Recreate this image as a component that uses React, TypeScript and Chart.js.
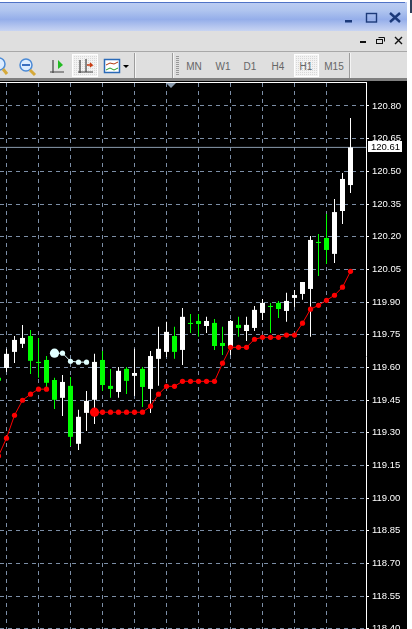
import React, { useEffect, useRef } from "react";
import Chart from "chart.js/auto";

const tickValues = [120.8, 120.65, 120.5, 120.35, 120.2, 120.05, 119.9, 119.75, 119.6, 119.45, 119.3, 119.15, 119.0, 118.85, 118.7, 118.55, 118.4];
const periods = ["MN", "W1", "D1", "H4", "H1", "M15"];
const lastPrice = 120.61;

const opens = [119.552, 119.597, 119.671, 119.708, 119.744, 119.625, 119.634, 119.542, 119.46, 119.515, 119.249, 119.391, 119.451, 119.634, 119.515, 119.487, 119.593, 119.561, 119.593, 119.501, 119.639, 119.671, 119.744, 119.68, 119.804, 119.813, 119.79, 119.804, 119.712, 119.689, 119.795, 119.767, 119.781, 119.85, 119.882, 119.896, 119.859, 119.919, 119.937, 119.96, 120.176, 120.194, 120.121, 120.318, 120.437];
const closes = [119.538, 119.662, 119.726, 119.735, 119.63, 119.62, 119.529, 119.451, 119.533, 119.281, 119.373, 119.446, 119.625, 119.519, 119.501, 119.584, 119.538, 119.574, 119.51, 119.652, 119.685, 119.763, 119.671, 119.832, 119.799, 119.799, 119.813, 119.698, 119.698, 119.813, 119.781, 119.795, 119.864, 119.896, 119.877, 119.868, 119.905, 119.932, 119.992, 120.185, 120.171, 120.139, 120.313, 120.465, 120.61];
const highs = [119.561, 119.685, 119.744, 119.795, 119.772, 119.735, 119.652, 119.552, 119.565, 119.556, 119.405, 119.492, 119.662, 119.675, 119.593, 119.602, 119.602, 119.685, 119.602, 119.675, 119.786, 119.809, 119.786, 119.873, 119.845, 119.845, 119.832, 119.822, 119.786, 119.818, 119.832, 119.832, 119.882, 119.914, 119.896, 119.905, 119.942, 119.955, 119.992, 120.203, 120.212, 120.304, 120.373, 120.492, 120.745];
const lows = [119.524, 119.579, 119.62, 119.689, 119.57, 119.552, 119.51, 119.409, 119.377, 119.239, 119.221, 119.308, 119.34, 119.492, 119.46, 119.46, 119.478, 119.469, 119.418, 119.391, 119.515, 119.648, 119.639, 119.611, 119.758, 119.74, 119.758, 119.68, 119.657, 119.657, 119.74, 119.721, 119.767, 119.818, 119.758, 119.827, 119.809, 119.877, 119.91, 119.74, 120.02, 120.075, 120.079, 120.258, 120.401];
const redStops = [119.193, 119.275, 119.38, 119.449, 119.477, 119.5, 119.5, null, null, null, null, null, 119.394, 119.394, 119.394, 119.394, 119.394, 119.394, 119.394, 119.422, 119.477, 119.513, 119.513, 119.536, 119.536, 119.536, 119.536, 119.536, 119.619, 119.692, 119.692, 119.692, 119.729, 119.738, 119.738, 119.738, 119.748, 119.748, 119.803, 119.867, 119.885, 119.908, 119.931, 119.968, 120.041];
const whiteStops = [null, null, null, null, null, null, null, 119.665, 119.665, 119.628, 119.624, 119.624];

const GRID = "#7c8ea6";
const GREEN = "#00ff00";
const WHITE = "#ffffff";
const RED = "#ff0000";
const CYAN = "#e0ffff";
const FONT = "'Liberation Sans', Arial, sans-serif";

const overlay = {
  id: "overlay",
  afterDraw(chart: any) {
    const { ctx, chartArea, scales } = chart;
    ctx.save();
    ctx.fillStyle = "#ffffff";
    ctx.fillRect(0, 1, chartArea.right + 1, 1);
    ctx.fillStyle = "#8a9bad";
    ctx.beginPath();
    ctx.moveTo(166, 2);
    ctx.lineTo(176, 2);
    ctx.lineTo(171, 7);
    ctx.closePath();
    ctx.fill();
    const y = Math.round(scales.y.getPixelForValue(lastPrice));
    ctx.fillStyle = "#ffffff";
    ctx.fillRect(368, y - 6, 34, 11);
    ctx.fillStyle = "#000000";
    ctx.font = `9.5px ${FONT}`;
    ctx.textBaseline = "middle";
    ctx.textAlign = "left";
    ctx.fillText(lastPrice.toFixed(2), 371, y);
    ctx.restore();
  },
};

function Toolbar() {
  return (
    <svg width={412} height={81} style={{ position: "absolute", left: 0, top: 0 }}>
      <defs>
        <linearGradient id="tb" x1="0" y1="0" x2="0" y2="1">
          <stop offset="0" stopColor="#bccdf2" />
          <stop offset="0.3" stopColor="#afc4ef" />
          <stop offset="0.6" stopColor="#95aeea" />
          <stop offset="1" stopColor="#c8d4f2" />
        </linearGradient>
        <pattern id="dots" width="2" height="2" patternUnits="userSpaceOnUse">
          <rect width="2" height="2" fill="#f3f3f3" />
          <rect width="1" height="1" fill="#d8d8d8" />
        </pattern>
      </defs>
      <rect x={0} y={0} width={412} height={81} fill="#ffffff" />
      <rect x={410} y={0} width={2} height={13} fill="#30405a" />
      <rect x={0} y={2} width={407} height={29} fill="url(#tb)" />
      <rect x={0} y={2} width={405} height={1} fill="#4f72c6" />
      <rect x={0} y={31} width={407} height={47} fill="#dfdfdf" />
      <rect x={0} y={51} width={407} height={1} fill="#a8a8a8" />
      <rect x={0} y={78} width={407} height={3} fill="#808080" />

      <rect x={345} y={20} width={7} height={2.5} fill="#1c3a7a" />
      <rect x={366.5} y={13.5} width={10} height={8.5} fill="none" stroke="#1c3a7a" strokeWidth={1.4} />
      <path d="M390 13 L400 22 M400 13 L390 22" stroke="#1c3a7a" strokeWidth={2.4} />

      <rect x={360} y={41} width={6} height={2} fill="#111" />
      <rect x={376.5} y={39.5} width={6} height={4} fill="none" stroke="#111" />
      <path d="M378.5 37.5 H384.5 V41.5" fill="none" stroke="#111" />
      <path d="M395 37 L402 44 M402 37 L395 44" stroke="#111" strokeWidth={1.4} />

      <circle cx={-1} cy={64} r={6} fill="#dcecff" stroke="#4b8ad6" strokeWidth={1.5} />
      <path d="M3 69 L7 74" stroke="#d5a93a" strokeWidth={3} />
      <circle cx={26} cy={65} r={6} fill="#dcecff" stroke="#4b8ad6" strokeWidth={1.5} />
      <rect x={22} y={64} width={8} height={2} fill="#3a6fc0" />
      <path d="M30 70 L35 75" stroke="#d5a93a" strokeWidth={3} />
      <path d="M53 60 V73 M50 72 H64" stroke="#444" fill="none" strokeWidth={1.2} />
      <path d="M58 60 L63 65 L58 69 Z" fill="#22bb22" />

      <rect x={72.5} y={54.5} width={25} height={22} fill="url(#dots)" stroke="#ffffff" />
      <path d="M80 60 V73 M78 72 H93 M86 59 V72" stroke="#444" fill="none" strokeWidth={1.2} />
      <path d="M87 65 H92 L90 63 M92 65 L90 67" stroke="#c83a10" fill="none" strokeWidth={1.4} />

      <rect x={104.5} y={59.5} width={15} height={13} fill="#ffffff" stroke="#2a6ab8" strokeWidth={1.5} />
      <path d="M106 65 L110 63 L114 64 L118 62" stroke="#b03a10" fill="none" />
      <path d="M106 70 L110 68 L114 70 L118 68" stroke="#22a022" fill="none" />
      <path d="M123 65 H129 L126 68 Z" fill="#000" />

      {[134, 172, 349].map((x) => (
        <g key={x}>
          <rect x={x} y={53} width={1} height={25} fill="#9c9c9c" />
          <rect x={x + 1} y={53} width={1} height={25} fill="#f4f4f4" />
        </g>
      ))}
      {Array.from({ length: 10 }, (_, k) => (
        <rect key={k} x={176} y={56 + k * 2} width={3} height={1} fill="#9a9a9a" />
      ))}
      <rect x={294.5} y={54.5} width={24} height={22} fill="url(#dots)" stroke="#ffffff" />
      {periods.map((p, k) => (
        <text
          key={p}
          x={[194, 223, 250, 278, 306, 334][k]}
          y={70}
          textAnchor="middle"
          fontSize={10}
          fontFamily={FONT}
          fill="#666666"
        >
          {p}
        </text>
      ))}
    </svg>
  );
}

export default function App() {
  const ref = useRef<HTMLCanvasElement>(null);
  useEffect(() => {
    const idx = opens.map((_, i) => i);
    const isUp = (i: number) => closes[i] >= opens[i];
    const col = (i: number) => (isUp(i) ? WHITE : GREEN);
    const chart = new Chart(ref.current as HTMLCanvasElement, {
      type: "bar",
      data: {
        datasets: [
          {
            type: "line",
            data: [{ x: 0, y: lastPrice }, { x: 46, y: lastPrice }],
            borderColor: "#8a9bad",
            borderWidth: 1,
            pointRadius: 0,
            order: 5,
          },
          {
            data: idx.map((i) => ({ x: i, y: [lows[i], highs[i]] })),
            backgroundColor: idx.map(col),
            barThickness: 1,
            grouped: false,
            inflateAmount: 0,
            order: 4,
          },
          {
            data: idx.map((i) => ({ x: i, y: [opens[i], closes[i]] })),
            backgroundColor: idx.map(col),
            barThickness: 5,
            grouped: false,
            inflateAmount: 0,
            order: 3,
          },
          {
            type: "line",
            data: redStops.map((v, i) => ({ x: i, y: v })),
            borderColor: RED,
            backgroundColor: RED,
            borderWidth: 1,
            pointRadius: redStops.map((_, i) => (i === 12 ? 4.6 : 2.6)),
            pointBorderWidth: 0,
            spanGaps: false,
            order: 1,
          },
          {
            type: "line",
            data: whiteStops.map((v, i) => ({ x: i, y: v })),
            borderColor: CYAN,
            backgroundColor: CYAN,
            borderWidth: 1,
            pointRadius: whiteStops.map((_, i) => (i === 7 ? 4.6 : 2.6)),
            pointBorderWidth: 0,
            spanGaps: false,
            order: 1,
          },
        ],
      } as any,
      options: {
        responsive: false,
        animation: false,
        layout: { autoPadding: false, padding: { top: 2, bottom: 0, left: 0, right: 0 } },
        plugins: { legend: { display: false }, tooltip: { enabled: false } },
        scales: {
          x: {
            type: "linear",
            offset: false,
            min: 0.1875,
            max: 45.9375,
            afterBuildTicks: (s: any) => {
              s.ticks = idx.filter((i) => i % 4 === 1).map((value) => ({ value }));
            },
            ticks: { display: false },
            border: { display: false, dash: [4, 4] },
            grid: { color: GRID, drawTicks: false, lineWidth: 1, offset: false } as any,
          },
          y: {
            position: "right",
            min: 118.3987,
            max: 120.9056,
            afterBuildTicks: (s: any) => {
              s.ticks = tickValues.map((value) => ({ value }));
            },
            afterFit: (s: any) => {
              s.width = 41;
              s.paddingTop = 0;
              s.paddingBottom = 0;
            },
            ticks: {
              autoSkip: false,
              color: "#ffffff",
              padding: 3,
              font: { family: FONT, size: 9.5 },
              callback: (v: any) => Number(v).toFixed(2),
            },
            border: { display: true, color: "#ffffff", width: 1, dash: [4, 4] },
            grid: {
              color: GRID,
              lineWidth: 1,
              tickLength: 3,
              tickColor: "#ffffff",
              tickBorderDash: [1, 0],
            } as any,
          },
        },
      } as any,
      plugins: [overlay],
    });
    return () => chart.destroy();
  }, []);
  return (
    <div style={{ position: "fixed", left: 0, top: 0, width: 412, height: 629, background: "#ffffff", overflow: "hidden" }}>
      <Toolbar />
      <canvas
        ref={ref}
        width={407}
        height={548}
        style={{ position: "absolute", left: 0, top: 81, width: 407, height: 548, background: "#000000", display: "block" }}
      />
    </div>
  );
}
